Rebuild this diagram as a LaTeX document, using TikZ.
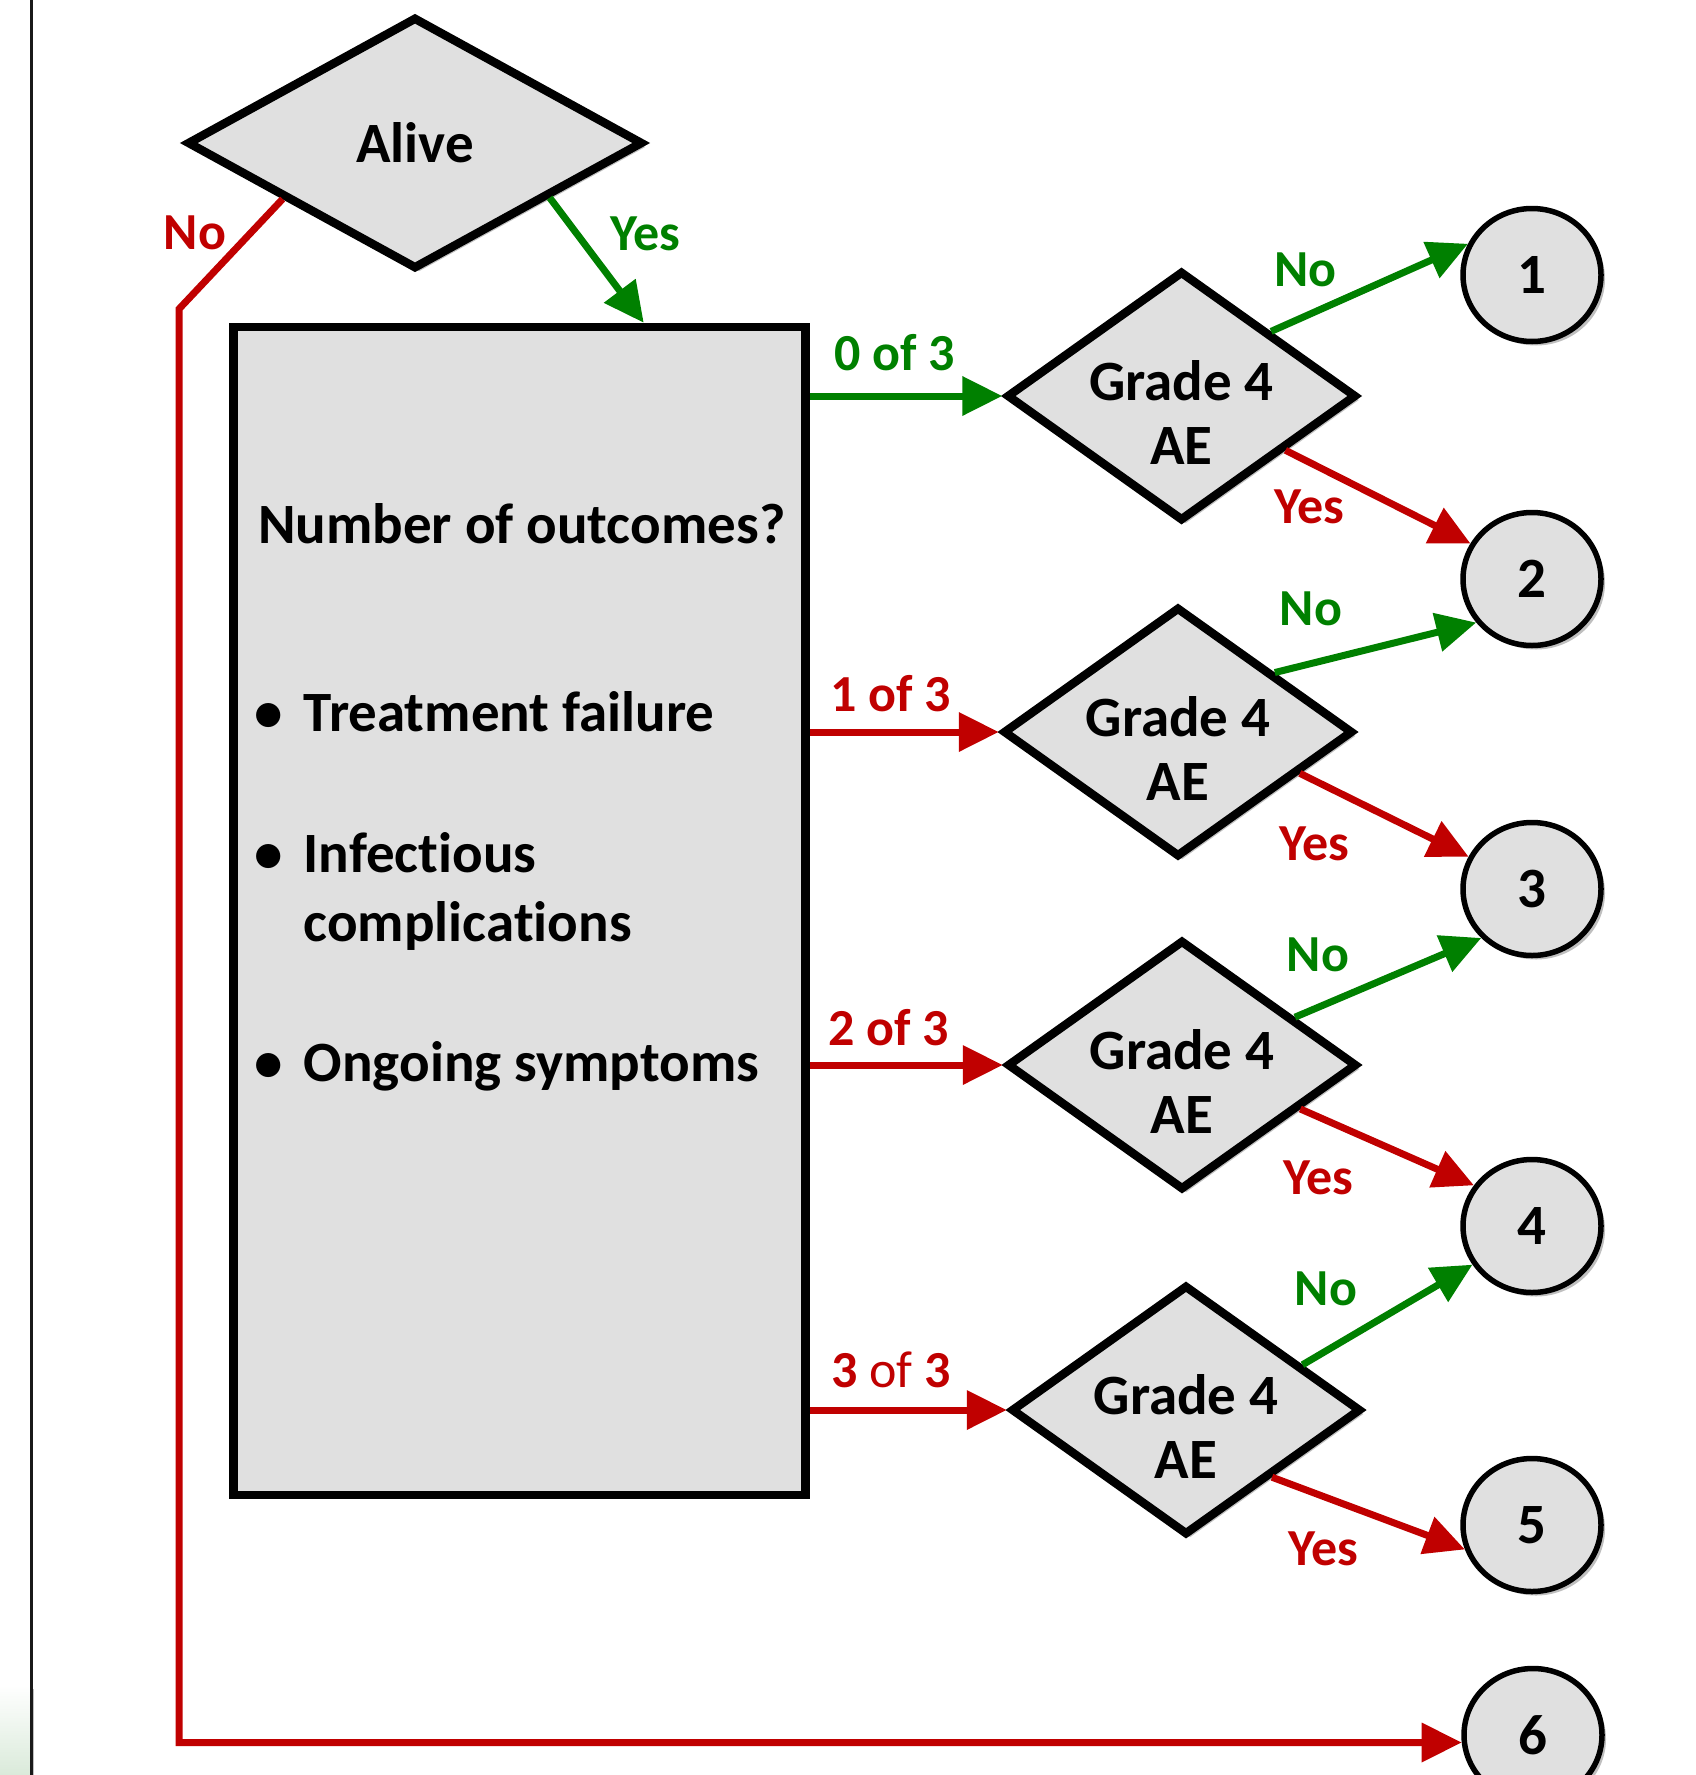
\documentclass[tikz,border=0pt]{standalone}
\usepackage{fontspec}
\setmainfont{Carlito}[Ligatures=NoCommon]
\usetikzlibrary{shapes.geometric,arrows.meta,calc,shadows}
\definecolor{okgreen}{RGB}{0,128,0}
\definecolor{nored}{RGB}{192,0,0}
\definecolor{boxgray}{RGB}{224,224,224}
\definecolor{paleg}{RGB}{218,234,218}
\begin{document}
\begin{tikzpicture}[x=1pt,y=-1pt,
  mainfont/.style={font=\fontsize{57}{64}\selectfont\bfseries},
  lblfont/.style={font=\fontsize{52}{60}\selectfont\bfseries},
  shade/.style={drop shadow={shadow xshift=4pt,shadow yshift=-4pt,opacity=0.25,fill=black}},
  dec/.style={diamond, draw=black, line width=8.5pt, fill=boxgray, inner sep=0pt,
    minimum width=350pt, minimum height=250pt, shade},
  alivedec/.style={dec, minimum width=456pt, minimum height=252pt},
  endnode/.style={ellipse, draw=black, line width=5.5pt, fill=boxgray, inner sep=0pt,
    minimum width=138pt, minimum height=133pt, mainfont, shade},
  bigbox/.style={rectangle, draw=black, line width=8.5pt, fill=boxgray, inner sep=0pt,
    minimum width=572pt, minimum height=1168pt},
  boxtext/.style={mainfont, inner sep=0pt, anchor=base west},
  garrow/.style={draw=okgreen, line width=7pt, -{Triangle[length=40pt,width=38pt]}},
  rarrow/.style={draw=nored, line width=7pt, -{Triangle[length=40pt,width=38pt]}},
  glbl/.style={lblfont, text=okgreen, inner sep=0pt},
  rlbl/.style={lblfont, text=nored, inner sep=0pt},
  dtext/.style={mainfont, align=center, yshift=-16pt}
]
\useasboundingbox (0,0) rectangle (1695,1775);
\shade[top color=white, bottom color=paleg] (0,1685) rectangle (30,1775);
\draw[line width=2.5pt, black!90] (31.5,0) -- (31.5,1775);

% main box
\node[bigbox] (box) at (519.5,911) {};
\node[boxtext] (t0) at (258,543) {Number of outcomes?};
\node[boxtext] (t1) at (303.5,731) {Treatment failure};
\node[boxtext] (t2) at (303.5,872) {Infectious};
\node[boxtext] (t2b) at (303.5,941) {complications};
\node[boxtext] (t3) at (303.5,1081) {Ongoing symptoms};
\node[mainfont, inner sep=0pt, anchor=base] (b1) at (269,731) {\textbullet};
\node[mainfont, inner sep=0pt, anchor=base] (b2) at (269,872) {\textbullet};
\node[mainfont, inner sep=0pt, anchor=base] (b3) at (269,1081) {\textbullet};

% diamonds
\node[alivedec, mainfont] (alive) at (415,143) {Alive};
\node[dec, label={[dtext]center:Grade 4\\AE}] (d1) at (1181.5,396) {};
\node[dec, label={[dtext]center:Grade 4\\AE}] (d2) at (1178,732) {};
\node[dec, label={[dtext]center:Grade 4\\AE}] (d3) at (1182,1065) {};
\node[dec, label={[dtext]center:Grade 4\\AE}] (d4) at (1186,1410) {};

% end circles
\node[endnode] (c1) at (1532,275) {1};
\node[endnode] (c2) at (1532,579) {2};
\node[endnode] (c3) at (1532,889) {3};
\node[endnode] (c4) at (1532,1226) {4};
\node[endnode] (c5) at (1532,1525) {5};
\node[endnode] (c6) at (1533,1735) {6};

% Alive branches
\coordinate (bend) at (179,309);
\draw[rarrow] ($(alive.west)!0.43!(alive.south)$) -- (bend) |- (c6.186);
\draw[garrow] ($(alive.east)!0.42!(alive.south)$) -- ($(box.north west)!0.714!(box.north east)$);
\node[rlbl] (lno) at (195,233) {No};
\node[glbl] (lyes) at (645.5,234) {Yes};

% box to diamonds
\draw[garrow] (box.east |- d1.west) -- (d1.west);
\draw[rarrow] (box.east |- d2.west) -- (d2.west);
\draw[rarrow] (box.east |- d3.west) -- (d3.west);
\draw[rarrow] (box.east |- d4.west) -- (d4.west);
\node[glbl] (l0) at (894.5,353) {0 of 3};
\node[rlbl] (l1) at (891,694) {1 of 3};
\node[rlbl] (l2) at (889,1028) {2 of 3};
\node[rlbl] (l3) at (891,1370) {3 {\mdseries of} 3};

% diamonds to circles
\draw[garrow] ($(d1.north)!0.5!(d1.east)$) -- (c1.154);
\draw[rarrow] ($(d1.east)!0.42!(d1.south)$) -- (c2.150);
\draw[garrow] ($(d2.north)!0.54!(d2.east)$) -- (c2.218);
\draw[rarrow] ($(d2.east)!0.32!(d2.south)$) -- (c3.153);
\draw[garrow] ($(d3.north)!0.63!(d3.east)$) -- (c3.224);
\draw[rarrow] ($(d3.east)!0.34!(d3.south)$) -- (c4.145);
\draw[garrow] ($(d4.north)!0.65!(d4.east)$) -- (c4.213);
\draw[rarrow] ($(d4.east)!0.52!(d4.south)$) -- (c5.200);

\node[glbl] (n1) at (1305.5,269.5) {No};
\node[rlbl] (y1) at (1309,507) {Yes};
\node[glbl] (n2) at (1311,609) {No};
\node[rlbl] (y2) at (1314.5,843.6) {Yes};
\node[glbl] (n3) at (1318,954.5) {No};
\node[rlbl] (y3) at (1318,1177.6) {Yes};
\node[glbl] (n4) at (1326,1288.6) {No};
\node[rlbl] (y4) at (1323.6,1549) {Yes};
\end{tikzpicture}
\end{document}
